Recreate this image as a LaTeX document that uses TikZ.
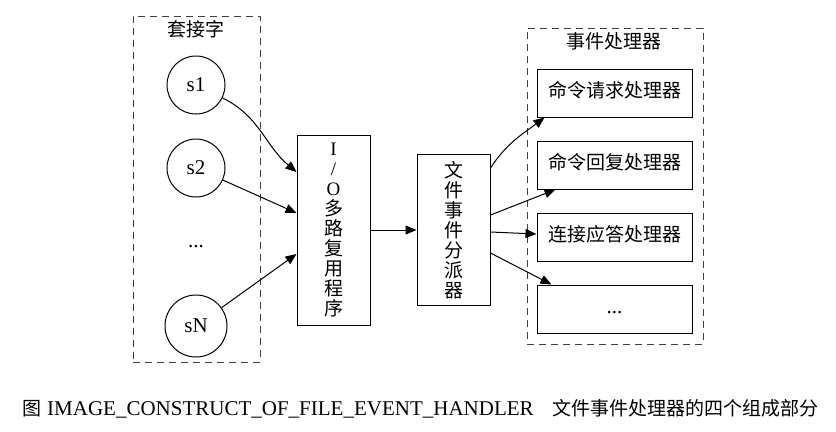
\documentclass[tikz,border=0pt]{standalone}
\usepackage{fontspec}
\setmainfont{Liberation Serif}
\newfontfamily\cjk{Noto Sans CJK SC}
\usetikzlibrary{arrows.meta}
\begin{document}
\begin{tikzpicture}[x=1bp,y=-1bp,
  every node/.style={font=\fontsize{21bp}{20bp}\selectfont},
  cjkf/.style={font=\fontsize{19bp}{20bp}\selectfont\cjk},
  cl/.style={draw=black!75, dash pattern=on 7bp off 5bp, line width=1bp, rectangle, inner sep=0pt},
  sock/.style={circle, draw, line width=1bp, minimum size=58bp, inner sep=0pt},
  hbox/.style={rectangle, draw, line width=1bp, minimum width=155bp, minimum height=48bp, inner sep=0pt, text height=13bp, text depth=4bp},
  vbox/.style={rectangle, draw, line width=1bp, minimum width=73bp, align=center, inner sep=0pt},
  edge/.style={-{Triangle[length=11bp,width=9bp]}, line width=1bp},
  captext/.style={inner sep=0pt}]
\useasboundingbox (0,0) rectangle (836,431);

% clusters
\node[cl, minimum width=127bp, minimum height=346bp] (cL) at (196.5,189) {};
\node[cl, minimum width=176bp, minimum height=316bp] (cR) at (615,186) {};
\node[cjkf] (tL) at (196,29) {套接字};
\node[cjkf] (tR) at (614,41) {事件处理器};

% sockets
\node[sock] (s1) at (196,85) {s1};
\node[sock] (s2) at (196,168) {s2};
\node (dots) at (196,247) {...};
\node[sock, minimum size=62bp] (sN) at (196,326) {sN};

% multiplexer and dispatcher
\node[vbox, minimum height=190bp, font=\fontsize{19bp}{20bp}\selectfont] (io) at (333.5,230) {I\\/\\O\\{\cjk 多}\\{\cjk 路}\\{\cjk 复}\\{\cjk 用}\\{\cjk 程}\\{\cjk 序}};
\node[vbox, minimum height=151bp, font=\fontsize{19bp}{20bp}\selectfont\cjk] (disp) at (453.5,230) {文\\件\\事\\件\\分\\派\\器};

% handlers
\node[hbox, cjkf] (b1) at (614.5,93) {命令请求处理器};
\node[hbox, cjkf] (b2) at (614.5,165) {命令回复处理器};
\node[hbox, cjkf] (b3) at (614.5,237) {连接应答处理器};
\node[hbox] (b4) at (614.5,309) {...};

% edges
\draw[edge] (s1) to[out=-26,in=140] ([yshift=58bp]io.west);
\draw[edge] (s2) -- ([yshift=17bp]io.west);
\draw[edge] (sN) -- ([yshift=-24bp]io.west);
\draw[edge] (io.east) -- (disp.west);
\draw[edge] ([yshift=62bp]disp.east) to[out=57,in=217] ([xshift=8bp]b1.south west);
\draw[edge] ([yshift=15bp]disp.east) -- ([xshift=19bp]b2.south west);
\draw[edge] ([yshift=-2bp]disp.east) -- ([yshift=3bp]b3.west);
\draw[edge] ([yshift=-23bp]disp.east) -- ([xshift=15bp]b4.north west);

% caption
\node[captext, cjkf, anchor=base west] (c1) at (22,415) {图};
\node[captext, anchor=base west] (c2) at (47,415) {IMAGE\_CONSTRUCT\_OF\_FILE\_EVENT\_HANDLER};
\node[captext, cjkf, anchor=base east] (c3) at (819,415) {文件事件处理器的四个组成部分};
\end{tikzpicture}
\end{document}
